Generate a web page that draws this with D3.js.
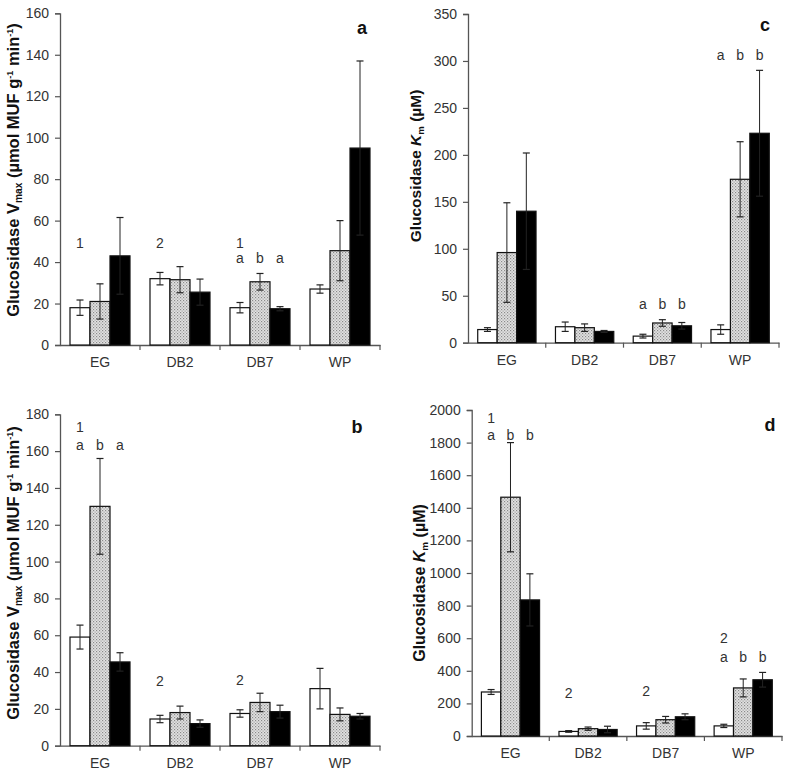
<!DOCTYPE html>
<html><head><meta charset="utf-8">
<script src="https://cdn.jsdelivr.net/npm/d3@7"></script>
<style>body{margin:0;background:#fff}svg{display:block;font-family:Arial,"Liberation Sans",sans-serif}</style>
</head><body>
<svg id="c" width="787" height="771"></svg>
<script>
const categories = ["EG","DB2","DB7","WP"];
const series = ["open","hatched","solid"];

// Panel a: Vmax
const aValues = [[18,21,43],[32,31.5,25.5],[18,30.5,17.5],[27,45.5,95]];
const aErrors = [[3.7,8.5,18.5],[3,6.3,6.3],[2.5,4,1],[2,14.5,42]];
const aTicks = [0,20,40,60,80,100,120,140,160];
const aNotes = [["1","EG",0,49],["2","DB2",0,49],["1","DB7",0,49],["a","DB7",0,42],["b","DB7",1,42],["a","DB7",2,42]];

// Panel c: Km
const cValues = [[14,96,140],[17,16,12],[7,21,18],[14,174,223]];
const cErrors = [[2,53,62],[5,4,1],[2,3.5,3.5],[5,40,67]];
const cTicks = [0,50,100,150,200,250,300,350];
const cNotes = [["a","DB7",0,41],["b","DB7",1,41],["b","DB7",2,41],["a","WP",0,306],["b","WP",1,306],["b","WP",2,306]];

// Panel b: Vmax
const bValues = [[59,130,45.5],[14.5,18,12],[17.5,23.5,18.5],[31,17,16]];
const bErrors = [[6.5,26,5],[2,3.5,2],[2,5,3.5],[11,3.5,1.5]];
const bTicks = [0,20,40,60,80,100,120,140,160,180];
const bNotes = [["1","EG",0,173],["a","EG",0,163.5],["b","EG",1,163.5],["a","EG",2,163.5],["2","DB2",0,35],["2","DB7",0,35.5]];

// Panel d: Km
const dValues = [[270,1465,835],[28,45,40],[62,100,118],[62,295,345]];
const dErrors = [[15,335,160],[5,10,20],[20,20,18],[10,55,45]];
const dTicks = [0,200,400,600,800,1000,1200,1400,1600,1800,2000];
const dNotes = [["1","EG",0,1950],["a","EG",0,1845],["b","EG",1,1845],["b","EG",2,1845],["2","DB2",0,262],["2","DB7",0,278],["2","WP",0,600],["a","WP",0,487],["b","WP",1,487],["b","WP",2,487]];

const svg = d3.select("#c");
const defs = svg.append("defs");
const pat = defs.append("pattern").attr("id","hatch").attr("patternUnits","userSpaceOnUse")
  .attr("width",3).attr("height",3);
pat.append("rect").attr("width",3).attr("height",3).attr("fill","#e2e2e2");
pat.append("rect").attr("x",0).attr("y",0).attr("width",1.2).attr("height",1.2).attr("fill","#8a8a8a");
pat.append("rect").attr("x",1.5).attr("y",1.5).attr("width",1.2).attr("height",1.2).attr("fill","#a0a0a0");

const fills = ["#ffffff","url(#hatch)","#000000"];

function drawTitle(g, x, y, kind, fs){
  const t = g.append("text").attr("transform",`translate(${x},${y}) rotate(-90)`)
    .attr("text-anchor","middle").attr("font-size",fs).attr("font-weight","bold").attr("fill","#111");
  const s = fs*0.62, p = fs*0.55;
  if(kind==="vmax"){
    t.append("tspan").text("Glucosidase V");
    t.append("tspan").attr("font-size",s).attr("dy",3).text("max");
    t.append("tspan").attr("dy",-3).text(" (µmol MUF g");
    t.append("tspan").attr("font-size",p).attr("dy",-6).text("-1");
    t.append("tspan").attr("dy",6).text("  min");
    t.append("tspan").attr("font-size",p).attr("dy",-6).text("-1");
    t.append("tspan").attr("dy",6).text(")");
  } else {
    t.append("tspan").text("Glucosidase ");
    t.append("tspan").attr("font-style","italic").text("K");
    t.append("tspan").attr("font-size",s).attr("dy",3).text("m");
    t.append("tspan").attr("dy",-3).text(" (µM)");
  }
}

function panel(o){
  const g = svg.append("g");
  const y = d3.scaleLinear().domain([0,o.max]).range([o.yb,o.yt]);
  const x = d3.scaleBand().domain(categories).range([o.x0,o.x1]).paddingInner(0).paddingOuter(0);
  const bw = x.bandwidth();
  const xs = d3.scaleBand().domain(series).range([bw*0.125,bw*0.875]);

  const ya = g.append("g").attr("transform",`translate(${o.x0},0)`)
    .call(d3.axisLeft(y).tickValues(o.ticks).tickSize(5).tickPadding(6).tickFormat(d3.format("d")));
  ya.select(".domain").attr("stroke","#555").attr("stroke-width",1.3);
  ya.selectAll(".tick line").attr("stroke","#555").attr("stroke-width",1.2);
  ya.selectAll(".tick text").attr("font-size",14).attr("fill","#333").attr("font-family","Arial, Liberation Sans, sans-serif");

  const xa = g.append("g").attr("transform",`translate(0,${o.yb})`)
    .call(d3.axisBottom(x).tickSize(0).tickPadding(12));
  xa.select(".domain").attr("stroke","#555").attr("stroke-width",1.3);
  xa.selectAll(".tick text").attr("font-size",14).attr("fill","#333").attr("font-family","Arial, Liberation Sans, sans-serif");
  g.selectAll(".xtick").data(categories.slice(1)).enter().append("line")
    .attr("x1",d=>x(d)).attr("x2",d=>x(d)).attr("y1",o.yb).attr("y2",o.yb+5)
    .attr("stroke","#555").attr("stroke-width",1.2);
  g.append("line").attr("x1",o.x1).attr("x2",o.x1).attr("y1",o.yb).attr("y2",o.yb+5)
    .attr("stroke","#555").attr("stroke-width",1.2);

  const flat = [];
  categories.forEach((c,i)=>series.forEach((s,j)=>flat.push({c,s,j,v:o.values[i][j],e:o.errors[i][j]})));

  g.selectAll(".bar").data(flat).enter().append("rect")
    .attr("x",d=>x(d.c)+xs(d.s)).attr("width",xs.bandwidth())
    .attr("y",d=>y(d.v)).attr("height",d=>y(0)-y(d.v))
    .attr("fill",d=>fills[d.j]).attr("stroke","#111").attr("stroke-width",1.2);

  const cx = d=>x(d.c)+xs(d.s)+xs.bandwidth()/2;
  const eb = g.selectAll(".eb").data(flat).enter().append("g");
  eb.append("line").attr("x1",cx).attr("x2",cx)
    .attr("y1",d=>y(d.v-d.e)).attr("y2",d=>y(d.v+d.e)).attr("stroke","#222").attr("stroke-width",1);
  [1,-1].forEach(sg=>{
    eb.append("line").attr("x1",d=>cx(d)-3.5).attr("x2",d=>cx(d)+3.5)
      .attr("y1",d=>y(d.v+sg*d.e)).attr("y2",d=>y(d.v+sg*d.e)).attr("stroke","#222").attr("stroke-width",1.2);
  });

  g.selectAll(".note").data(o.notes).enter().append("text")
    .attr("x",d=>x(d[1])+xs(series[d[2]])+xs.bandwidth()/2)
    .attr("y",d=>y(d[3])).attr("dy","0.35em").attr("text-anchor","middle")
    .attr("font-size",14).attr("fill","#333").text(d=>d[0]);

  g.append("text").attr("x",o.lx).attr("y",o.ly).attr("text-anchor","middle").attr("dy","0.35em")
    .attr("font-size",18).attr("font-weight","bold").attr("fill","#111").text(o.label);

  drawTitle(g,o.tx,o.ty,o.kind,o.tfs);
}

panel({x0:60,x1:380,yt:13.3,yb:345,max:160,values:aValues,errors:aErrors,ticks:aTicks,notes:aNotes,label:"a",lx:362,ly:28,kind:"vmax",tx:19,ty:170,tfs:16.5});
panel({x0:468,x1:779,yt:14,yb:342.7,max:350,values:cValues,errors:cErrors,ticks:cTicks,notes:cNotes,label:"c",lx:765,ly:25,kind:"km",tx:421,ty:166,tfs:15.5});
panel({x0:60,x1:380,yt:414.3,yb:745.7,max:180,values:bValues,errors:bErrors,ticks:bTicks,notes:bNotes,label:"b",lx:357,ly:427,kind:"vmax",tx:19,ty:573,tfs:16.5});
panel({x0:471.7,x1:782,yt:410,yb:736,max:2000,values:dValues,errors:dErrors,ticks:dTicks,notes:dNotes,label:"d",lx:770,ly:425,kind:"km",tx:425,ty:583,tfs:16});
</script>
</body></html>
